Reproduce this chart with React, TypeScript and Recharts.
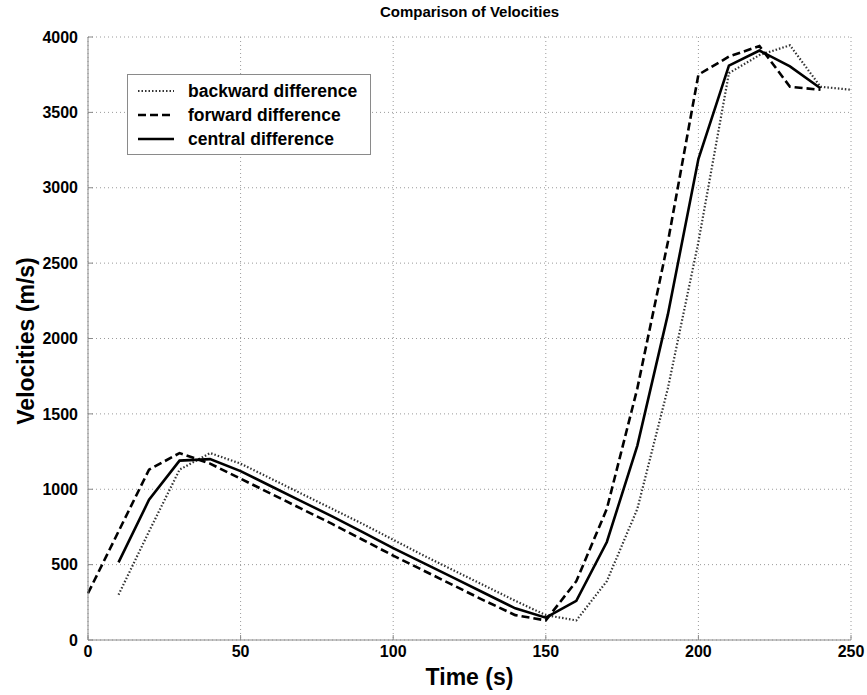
import { CartesianGrid, Legend, Line, LineChart, XAxis, YAxis } from "recharts";

// Time steps (s) for each difference scheme
const forwardTimes = [0, 10, 20, 30, 40, 50, 60, 70, 80, 90, 100, 110, 120, 130, 140, 150, 160, 170, 180, 190, 200, 210, 220, 230, 240];
const backwardTimes = [10, 20, 30, 40, 50, 60, 70, 80, 90, 100, 110, 120, 130, 140, 150, 160, 170, 180, 190, 200, 210, 220, 230, 240, 250];
const centralTimes = [10, 20, 30, 40, 50, 60, 70, 80, 90, 100, 110, 120, 130, 140, 150, 160, 170, 180, 190, 200, 210, 220, 230, 240];

// Velocities (m/s)
const forwardVel = [310, 720, 1130, 1240, 1170, 1070, 970, 870, 770, 665, 560, 460, 360, 260, 165, 130, 390, 870, 1670, 2640, 3750, 3870, 3940, 3670, 3650];
const backwardVel = [300, 720, 1130, 1240, 1170, 1070, 970, 870, 770, 665, 560, 460, 360, 260, 165, 130, 390, 870, 1670, 2640, 3760, 3880, 3945, 3670, 3650];
const centralVel = [515, 930, 1190, 1200, 1120, 1020, 920, 820, 715, 610, 510, 410, 310, 210, 148, 260, 650, 1290, 2160, 3190, 3810, 3910, 3805, 3660];

const xTicks = [0, 50, 100, 150, 200, 250];
const yTicks = [0, 500, 1000, 1500, 2000, 2500, 3000, 3500, 4000];

const backward = backwardTimes.map((t, i) => ({ t, v: backwardVel[i] }));
const forward = forwardTimes.map((t, i) => ({ t, v: forwardVel[i] }));
const central = centralTimes.map((t, i) => ({ t, v: centralVel[i] }));

const FONT = "'Liberation Sans', Arial, sans-serif";
const FRAME = "#8a8a8a";

const SERIES = [
  { name: "backward difference", dash: "1.5 2", width: 2.2, color: "#333" },
  { name: "forward difference", dash: "8 4", width: 2.6, color: "#000" },
  { name: "central difference", dash: undefined, width: 2.6, color: "#000" },
];

function LegendBox() {
  return (
    <div
      style={{
        width: 244,
        height: 81,
        boxSizing: "border-box",
        border: `1px solid ${FRAME}`,
        background: "#fff",
        fontFamily: FONT,
        fontWeight: "bold",
        fontSize: 17.5,
        paddingTop: 4,
      }}
    >
      {SERIES.map((s) => (
        <div key={s.name} style={{ display: "flex", alignItems: "center", height: 24 }}>
          <svg width={60} height={10}>
            <line x1={10} x2={46} y1={5} y2={5} stroke={s.color} strokeWidth={s.width} strokeDasharray={s.dash} />
          </svg>
          <span style={{ color: "#000" }}>{s.name}</span>
        </div>
      ))}
    </div>
  );
}

export default function App() {
  return (
    <div style={{ position: "absolute", left: 0, top: 0, width: 867, height: 695, background: "#fff" }}>
      <div
        style={{
          position: "absolute",
          left: 88,
          width: 763,
          top: 3,
          textAlign: "center",
          fontFamily: FONT,
          fontWeight: "bold",
          fontSize: 15,
        }}
      >
        Comparison of Velocities
      </div>
      <div
        style={{
          position: "absolute",
          left: 26,
          top: 341,
          transform: "translate(-50%, -50%) rotate(-90deg)",
          whiteSpace: "nowrap",
          fontFamily: FONT,
          fontWeight: "bold",
          fontSize: 23,
        }}
      >
        Velocities (m/s)
      </div>
      <div
        style={{
          position: "absolute",
          left: 88,
          width: 763,
          top: 664,
          textAlign: "center",
          fontFamily: FONT,
          fontWeight: "bold",
          fontSize: 23,
        }}
      >
        Time (s)
      </div>
      <LineChart width={867} height={695} margin={{ top: 37, right: 16, bottom: 0, left: 0 }}>
        <CartesianGrid stroke="#9a9a9a" strokeDasharray="1 3" />
        <XAxis
          dataKey="t"
          type="number"
          domain={[0, 250]}
          ticks={xTicks}
          height={55}
          tickSize={-5}
          tickMargin={11}
          stroke={FRAME}
          tick={{ fill: "#000", fontFamily: FONT, fontWeight: "bold", fontSize: 16 }}
        />
        <XAxis xAxisId="top" orientation="top" type="number" domain={[0, 250]} ticks={xTicks} height={0} tick={false} tickSize={-5} stroke={FRAME} />
        <YAxis
          dataKey="v"
          type="number"
          domain={[0, 4000]}
          ticks={yTicks}
          width={88}
          tickSize={-5}
          tickMargin={15}
          stroke={FRAME}
          tick={{ fill: "#000", fontFamily: FONT, fontWeight: "bold", fontSize: 16 }}
        />
        <YAxis yAxisId="right" orientation="right" type="number" domain={[0, 4000]} ticks={yTicks} width={0} tick={false} tickSize={-5} stroke={FRAME} />
        <Legend
          layout="vertical"
          align="center"
          verticalAlign="middle"
          wrapperStyle={{ left: 127, top: 74, width: 244 }}
          content={() => <LegendBox />}
        />
        <Line data={backward} dataKey="v" name={SERIES[0].name} stroke={SERIES[0].color} strokeWidth={SERIES[0].width} strokeDasharray={SERIES[0].dash} dot={false} isAnimationActive={false} />
        <Line data={forward} dataKey="v" name={SERIES[1].name} stroke={SERIES[1].color} strokeWidth={SERIES[1].width} strokeDasharray={SERIES[1].dash} dot={false} isAnimationActive={false} />
        <Line data={central} dataKey="v" name={SERIES[2].name} stroke={SERIES[2].color} strokeWidth={SERIES[2].width} dot={false} isAnimationActive={false} />
      </LineChart>
    </div>
  );
}
